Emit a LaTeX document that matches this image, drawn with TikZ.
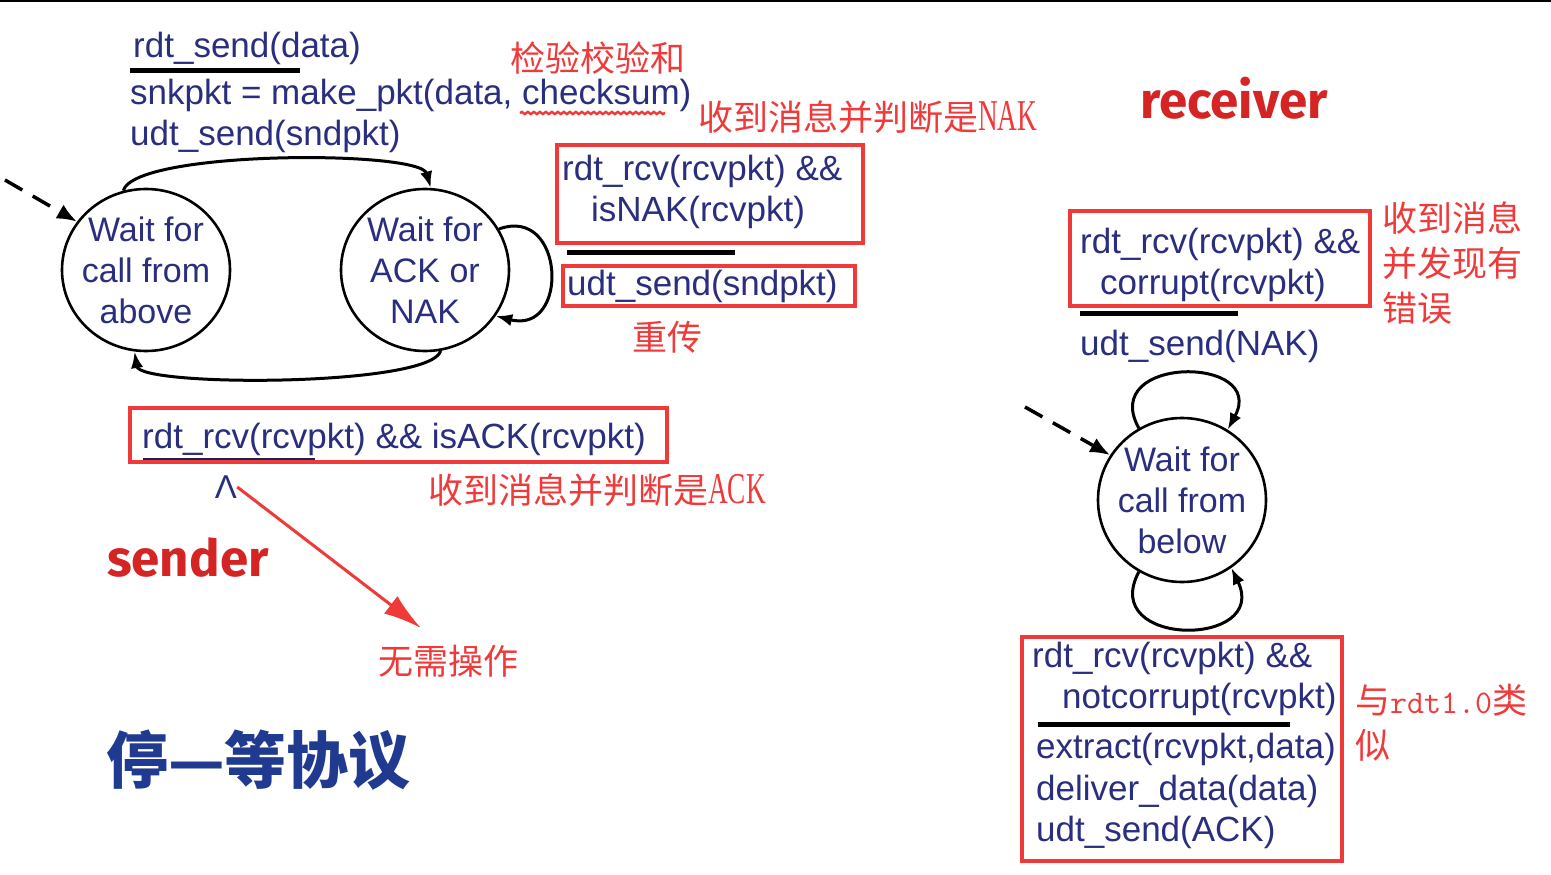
\documentclass[tikz,border=0pt]{standalone}
\usepackage{fontspec}
\setmainfont{Liberation Sans}
\newfontfamily\cjk{Noto Sans CJK SC}
\newfontfamily\narrowserif{Liberation Serif}
\newfontfamily\tagfont{Fira Sans}
\usetikzlibrary{arrows.meta,shapes.geometric,decorations.pathmorphing}
\definecolor{navy}{HTML}{2A2E7E}
\definecolor{markred}{HTML}{F03A3A}
\definecolor{tagred}{HTML}{D42424}
\definecolor{titleblue}{HTML}{1F3A8E}
\tikzset{>=Latex,state/.style={ellipse,draw,line width=2.6pt,minimum width=168pt,minimum height=162pt,inner sep=-6pt,align=center,text=navy,font=\fontsize{34}{41}\selectfont},act/.style={anchor=base west,inner sep=0pt,text=navy,font=\fontsize{35}{40}\selectfont},note/.style={anchor=base west,inner sep=0pt,text=markred,font=\cjk\fontsize{35}{45}\selectfont},hl/.style={draw=markred,line width=3.5pt},bar/.style={line width=5pt,black},trans/.style={->,line width=3pt},init/.style={-{Latex[length=20pt,width=16pt]},line width=3.5pt,dash pattern=on 20pt off 12pt},tag/.style={anchor=base west,inner sep=0pt,text=tagred,font=\tagfont\bfseries\fontsize{51}{55}\selectfont}}
\newcommand{\halfcaps}[1]{\scalebox{0.62}[1]{\narrowserif\fontsize{44}{45}\selectfont #1}}
\newcommand{\halfmono}[1]{{\ttfamily\fontsize{33}{40}\selectfont #1}}

\begin{document}
\begin{tikzpicture}[x=1pt,y=-1pt]
\useasboundingbox (0,0) rectangle (1551,875);
\fill[white] (0,0) rectangle (1551,875);
\fill[black] (0,0) rectangle (1551,2);

% sender side
\node[state] (above) at (146,270) {Wait for\\call from\\above};
\node[state] (acknak) at (425,270) {Wait for\\ACK or\\NAK};
\coordinate (start1) at (5,180);
\draw[init] (start1) -- (above.145);
\draw[trans] (above.106) .. controls (135,150) and (420,150) .. (acknak.86);
\draw[trans] (acknak.281) .. controls (430,387) and (140,387) .. (above.262);
\draw[trans] (acknak.29) .. controls (565,205) and (570,335) .. (acknak.-33);

\node[act] (sendev) at (133,58) {rdt\_send(data)};
\draw[bar] (130,71) -- (300,71);
\node[act] (mkpkt) at (130,104) {snkpkt = make\_pkt(data, checksum)};
\node[act] (sendpkt) at (130,145) {udt\_send(sndpkt)};
\draw[markred,line width=2.4pt,decorate,decoration={snake,amplitude=1.1pt,segment length=6pt}] (520,113) -- (665,113);
\node[note] (cksum) at (510,71) {检验校验和};
\node[note] (naknote) at (698,130) {收到消息并判断是\halfcaps{NAK}};

\draw[hl] (557,145) rectangle (863,243);
\node[act] (nakev) at (562,180) {rdt\_rcv(rcvpkt) \&\&};
\node[act] (isnak) at (591,221) {isNAK(rcvpkt)};
\draw[bar] (567,252) -- (735,252);
\draw[hl] (563,266) rectangle (855,306);
\node[act] (resend) at (567,295) {udt\_send(sndpkt)};
\node[note] (retx) at (632,350) {重传};

\draw[hl] (130,408) rectangle (667,462);
\node[act] (ackev) at (142,448) {rdt\_rcv(rcvpkt) \&\& isACK(rcvpkt)};
\draw[navy!70!black,line width=1.6pt] (143,459) -- (315,459);
\node[text=navy,font=\fontsize{33}{36}\selectfont,inner sep=0pt] (lam) at (226,487) {Λ};
\node[note] (acknote) at (428,503) {收到消息并判断是\halfcaps{ACK}};
\node[note] (noop) at (378,674) {无需操作};
\coordinate (tip) at (421,628);
\draw[markred,line width=3pt,-{Latex[length=38pt,width=22pt]}] (lam.east) -- (tip);
\node[tag] (sender) at (107,576) {sender};
\node[anchor=base west,inner sep=0pt,text=titleblue,font=\cjk\bfseries\fontsize{62}{66}\selectfont] (title) at (106,783) {停—等协议};

% receiver side
\node[tag] (receiver) at (1140,118) {receiver};
\node[state,minimum width=168pt,minimum height=164pt] (below) at (1182,500) {Wait for\\call from\\below};
\coordinate (start2) at (1025,407);
\draw[init] (start2) -- (below.148);
\draw[trans] (below.121) .. controls (1098,355) and (1268,355) .. (below.57);
\draw[trans] (below.239) .. controls (1098,648) and (1270,648) .. (below.306);

\draw[hl] (1070,211) rectangle (1370,306);
\node[act] (badev) at (1080,253) {rdt\_rcv(rcvpkt) \&\&};
\node[act] (corrupt) at (1100,294) {corrupt(rcvpkt)};
\draw[bar] (1080,313) -- (1238,313);
\node[act] (sendnak) at (1080,355) {udt\_send(NAK)};
\node[note] (errnote1) at (1382,231) {收到消息};
\node[note] (errnote2) at (1382,276) {并发现有};
\node[note] (errnote3) at (1382,321) {错误};

\draw[hl] (1022,637) rectangle (1342,861);
\node[act] (goodev) at (1032,667) {rdt\_rcv(rcvpkt) \&\&};
\node[act] (notcorrupt) at (1062,708) {notcorrupt(rcvpkt)};
\draw[bar] (1038,724) -- (1290,724);
\node[act] (extract) at (1036,758) {extract(rcvpkt,data)};
\node[act] (deliver) at (1036,800) {deliver\_data(data)};
\node[act] (sendack) at (1036,841) {udt\_send(ACK)};
\node[note] (likenote1) at (1355,713) {与\halfmono{rdt1.0}类};
\node[note] (likenote2) at (1355,758) {似};
\end{tikzpicture}
\end{document}
